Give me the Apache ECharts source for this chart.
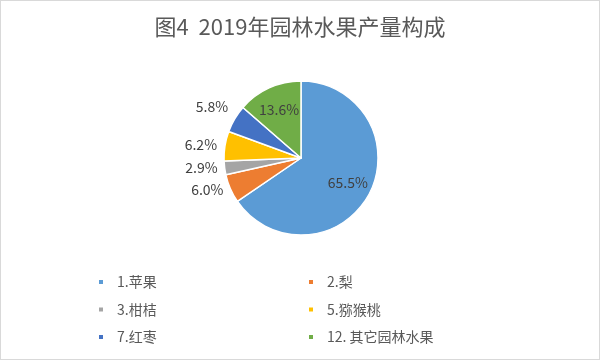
<!DOCTYPE html>
<html>
<head>
<meta charset="utf-8">
<script src="https://cdn.jsdelivr.net/npm/echarts@6/dist/echarts.min.js"></script>
<style>
html,body{margin:0;padding:0;background:#fff;}
#c{width:600px;height:360px;box-sizing:border-box;border:1px solid #d9d9d9;}
</style>
</head>
<body>
<div id="c"></div>
<script>
const categories = ['1.苹果', '2.梨', '3.柑桔', '5.猕猴桃', '7.红枣', '12. 其它园林水果'];
const values = [65.5, 6.0, 2.9, 6.2, 5.8, 13.6];
const colors = ['#5B9BD5', '#ED7D31', '#A5A5A5', '#FFC000', '#4472C4', '#70AD47'];
const titleText = '图4  2019年园林水果产量构成';
const insideLabelIdx = [0, 5];
// per-item outside label line offsets (length, length2)
const outsideLen = {1: [2, 0], 2: [2, 0], 3: [6, -3], 4: [24, -19]};

const FONT = '"Noto Sans CJK SC", "Noto Sans", sans-serif';
const chart = echarts.init(document.getElementById('c'));

const mainData = categories.map((n, i) => {
  const isOut = insideLabelIdx.indexOf(i) < 0;
  const o = {name: n, value: values[i], itemStyle: {color: colors[i]}};
  o.label = {show: isOut};
  if (isOut) o.labelLine = {show: false, length: outsideLen[i][0], length2: outsideLen[i][1]};
  return o;
});
const overlayData = categories.map((n, i) => ({
  name: n, value: values[i],
  itemStyle: {color: 'rgba(0,0,0,0)', borderWidth: 0},
  label: {show: insideLabelIdx.indexOf(i) >= 0}
}));

chart.setOption({
  animation: false,
  color: colors,
  title: {
    text: titleText,
    left: 'center',
    top: 10,
    textStyle: {fontFamily: FONT, fontSize: 22, fontWeight: 'normal', color: '#595959'}
  },
  legend: [
    {
      orient: 'vertical', left: 96, top: 273, padding: 0,
      itemWidth: 6, itemHeight: 6, itemGap: 11.5, icon: 'rect',
      data: [categories[0], categories[2], categories[4]],
      textStyle: {fontFamily: FONT, fontSize: 14, color: '#595959', lineHeight: 16, padding: [0, 0, 0, 8]}
    },
    {
      orient: 'vertical', left: 306, top: 273, padding: 0,
      itemWidth: 6, itemHeight: 6, itemGap: 11.5, icon: 'rect',
      data: [categories[1], categories[3], categories[5]],
      textStyle: {fontFamily: FONT, fontSize: 14, color: '#595959', lineHeight: 16, padding: [0, 0, 0, 8]}
    }
  ],
  series: [
    {
      type: 'pie',
      center: [300, 157],
      radius: [0, 77],
      startAngle: 90,
      clockwise: true,
      avoidLabelOverlap: false,
      itemStyle: {borderColor: '#fff', borderWidth: 1.5},
      label: {
        position: 'outside',
        formatter: p => p.value.toFixed(1) + '%',
        fontFamily: FONT, fontSize: 14, color: '#404040'
      },
      labelLine: {show: false},
      emphasis: {disabled: true},
      data: mainData
    },
    {
      type: 'pie',
      center: [300, 157],
      radius: [23, 77],
      startAngle: 90,
      clockwise: true,
      silent: true,
      avoidLabelOverlap: false,
      label: {
        position: 'inside',
        formatter: p => p.value.toFixed(1) + '%',
        fontFamily: FONT, fontSize: 14, color: '#404040'
      },
      labelLine: {show: false},
      emphasis: {disabled: true},
      data: overlayData
    }
  ]
});
</script>
</body>
</html>
